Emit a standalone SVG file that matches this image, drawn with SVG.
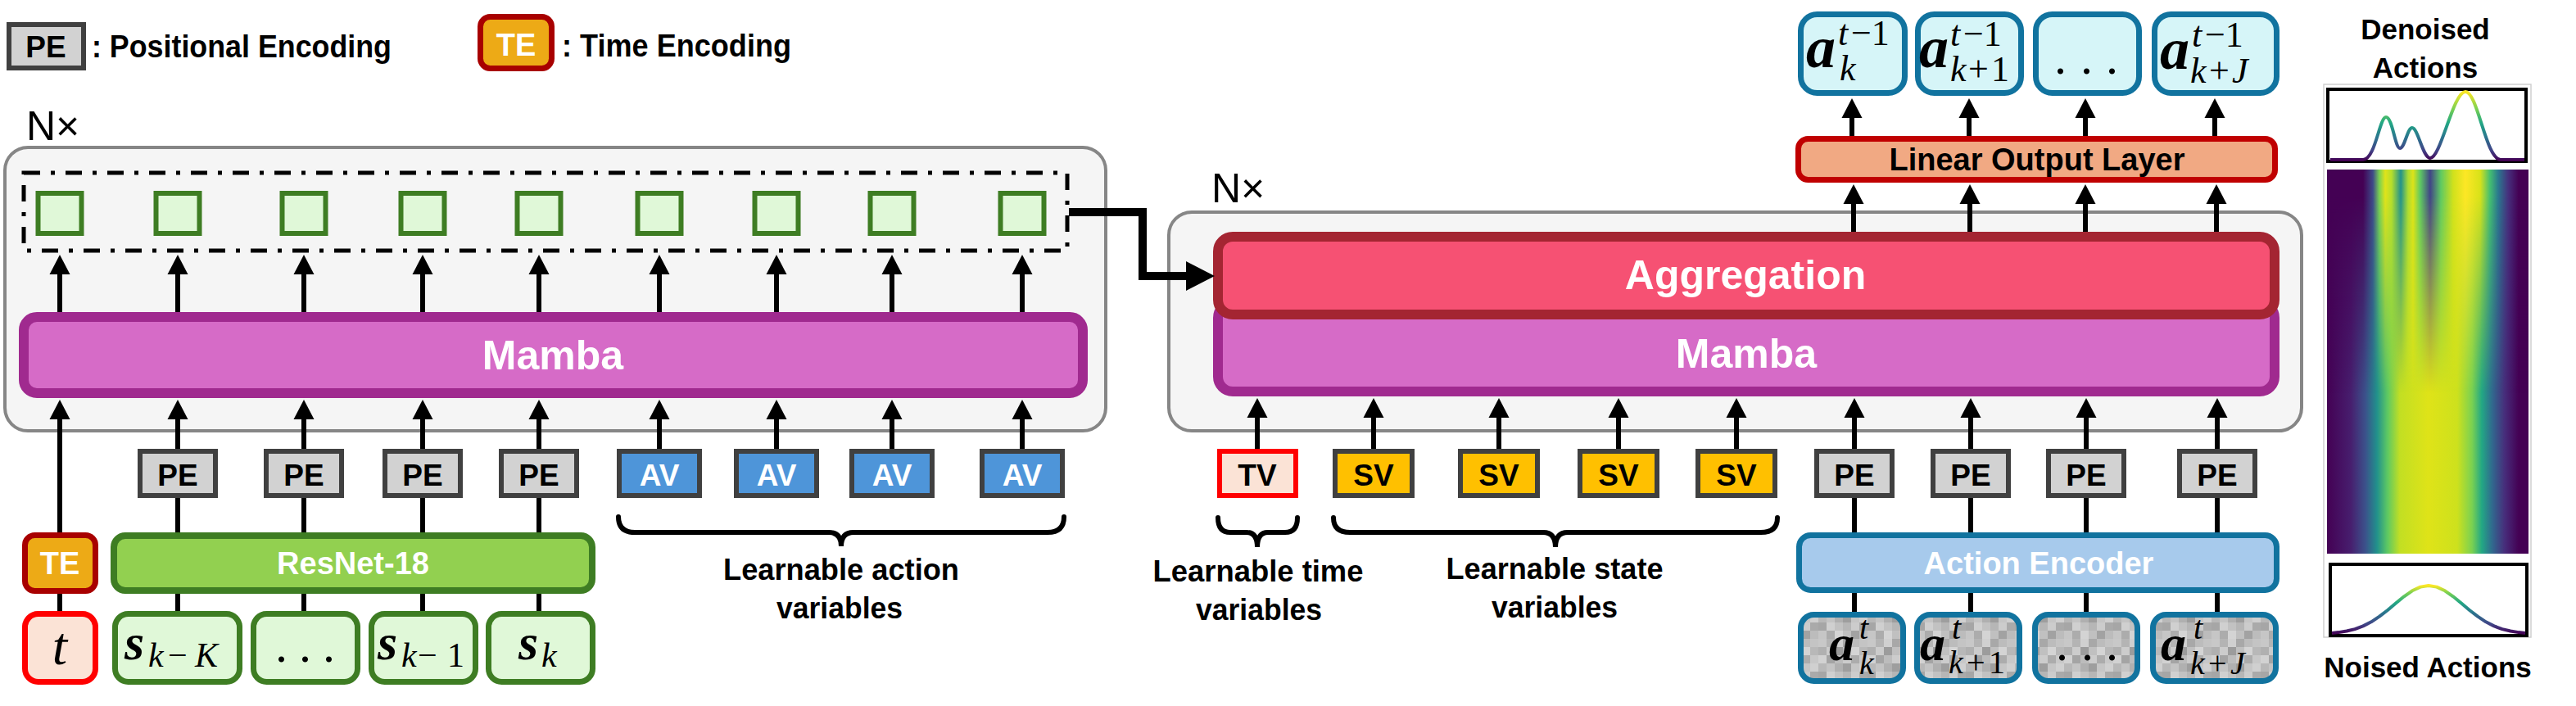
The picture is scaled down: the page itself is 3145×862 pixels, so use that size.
<svg xmlns="http://www.w3.org/2000/svg" width="3145" height="862" viewBox="0 0 3145 862">
<style>
.lb{font-family:'Liberation Sans',Arial,sans-serif;font-weight:bold}
.rg{font-family:'Liberation Sans',Arial,sans-serif}
.mi{font-family:'Liberation Serif','Times New Roman',serif;font-style:italic}
.mb{font-family:'Liberation Serif','Times New Roman',serif;font-style:italic;font-weight:bold}
.mr{font-family:'Liberation Serif','Times New Roman',serif}
.cont{fill:#F5F5F5;stroke:#868686;stroke-width:4}
.pe{fill:#D2D2D2;stroke:#404040;stroke-width:6}
.av{fill:#4E95D9;stroke:#404040;stroke-width:6}
.sv{fill:#FFC000;stroke:#404040;stroke-width:6}
.tv{fill:#FBE3D6;stroke:#FF0000;stroke-width:6}
.sq{fill:#E0F8D8;stroke:#3E7D23;stroke-width:6}
.st{fill:#E0F8D8;stroke:#3E7D23;stroke-width:7}
.mamba{fill:#D66BC7;stroke:#A02A8F;stroke-width:12}
.agg{fill:#F65173;stroke:#A42532;stroke-width:12}
.te{fill:#EDAA16;stroke:#A80000;stroke-width:7}
.tb{fill:#FBE3D6;stroke:#FF0000;stroke-width:7}
.res{fill:#92D050;stroke:#3E7D23;stroke-width:8}
.ae{fill:#A7CAEC;stroke:#11739F;stroke-width:7}
.ob{fill:#D6F5F8;stroke:#11739F;stroke-width:7}
.nb{fill:url(#noise);stroke:#11739F;stroke-width:7}
.lol{fill:#F1A983;stroke:#C00000;stroke-width:7}
.ar{stroke:#000;stroke-width:6;fill:none;marker-end:url(#ah)}
.ln{stroke:#000;stroke-width:6;fill:none}
.br{stroke:#000;stroke-width:6;fill:none;stroke-linecap:round}
.w{fill:#fff}
</style>
<defs>
<marker id="ah" markerUnits="userSpaceOnUse" viewBox="0 0 24 26" markerWidth="24" markerHeight="26" refX="13" refY="13" orient="auto">
<path d="M0,0.5 L24,13 L0,25.5 z" fill="#000"/>
</marker>
<pattern id="noise" patternUnits="userSpaceOnUse" width="60" height="60">
<rect x="0" y="0" width="10" height="10" fill="#c8c8c8"/><rect x="10" y="0" width="10" height="10" fill="#b4b4b4"/><rect x="20" y="0" width="10" height="10" fill="#d0d0d0"/><rect x="30" y="0" width="10" height="10" fill="#a8a8a8"/><rect x="40" y="0" width="10" height="10" fill="#bcbcbc"/><rect x="50" y="0" width="10" height="10" fill="#c4c4c4"/>
<rect x="0" y="10" width="10" height="10" fill="#b0b0b0"/><rect x="10" y="10" width="10" height="10" fill="#cccccc"/><rect x="20" y="10" width="10" height="10" fill="#9c9c9c"/><rect x="30" y="10" width="10" height="10" fill="#c0c0c0"/><rect x="40" y="10" width="10" height="10" fill="#d4d4d4"/><rect x="50" y="10" width="10" height="10" fill="#b8b8b8"/>
<rect x="0" y="20" width="10" height="10" fill="#d2d2d2"/><rect x="10" y="20" width="10" height="10" fill="#a4a4a4"/><rect x="20" y="20" width="10" height="10" fill="#bcbcbc"/><rect x="30" y="20" width="10" height="10" fill="#cccccc"/><rect x="40" y="20" width="10" height="10" fill="#acacac"/><rect x="50" y="20" width="10" height="10" fill="#c8c8c8"/>
<rect x="0" y="30" width="10" height="10" fill="#b8b8b8"/><rect x="10" y="30" width="10" height="10" fill="#c4c4c4"/><rect x="20" y="30" width="10" height="10" fill="#b0b0b0"/><rect x="30" y="30" width="10" height="10" fill="#9e9e9e"/><rect x="40" y="30" width="10" height="10" fill="#c6c6c6"/><rect x="50" y="30" width="10" height="10" fill="#d0d0d0"/>
<rect x="0" y="40" width="10" height="10" fill="#a6a6a6"/><rect x="10" y="40" width="10" height="10" fill="#d0d0d0"/><rect x="20" y="40" width="10" height="10" fill="#c2c2c2"/><rect x="30" y="40" width="10" height="10" fill="#b6b6b6"/><rect x="40" y="40" width="10" height="10" fill="#cccccc"/><rect x="50" y="40" width="10" height="10" fill="#aaaaaa"/>
<rect x="0" y="50" width="10" height="10" fill="#c6c6c6"/><rect x="10" y="50" width="10" height="10" fill="#acacac"/><rect x="20" y="50" width="10" height="10" fill="#d4d4d4"/><rect x="30" y="50" width="10" height="10" fill="#c0c0c0"/><rect x="40" y="50" width="10" height="10" fill="#a2a2a2"/><rect x="50" y="50" width="10" height="10" fill="#bcbcbc"/>
</pattern>
<linearGradient id="vTop" gradientUnits="userSpaceOnUse" x1="0" y1="196" x2="0" y2="112">
<stop offset="0" stop-color="#440154"/><stop offset="0.15" stop-color="#414487"/><stop offset="0.35" stop-color="#2a788e"/><stop offset="0.55" stop-color="#22a884"/><stop offset="0.75" stop-color="#7ad151"/><stop offset="1" stop-color="#fde725"/>
</linearGradient>
<linearGradient id="vBot" gradientUnits="userSpaceOnUse" x1="0" y1="774" x2="0" y2="715">
<stop offset="0" stop-color="#440154"/><stop offset="0.2" stop-color="#414487"/><stop offset="0.45" stop-color="#2a788e"/><stop offset="0.65" stop-color="#22a884"/><stop offset="0.85" stop-color="#7ad151"/><stop offset="1" stop-color="#fde725"/>
</linearGradient>
<linearGradient id="gB" gradientUnits="userSpaceOnUse" x1="2841" y1="0" x2="3087" y2="0">
<stop offset="0" stop-color="#440154"/><stop offset="0.118" stop-color="#471e6e"/><stop offset="0.191" stop-color="#3b528b"/><stop offset="0.248" stop-color="#21918c"/><stop offset="0.301" stop-color="#5ec962"/><stop offset="0.362" stop-color="#c2df23"/><stop offset="0.504" stop-color="#dfe318"/><stop offset="0.646" stop-color="#cde11d"/><stop offset="0.72" stop-color="#7ad151"/><stop offset="0.768" stop-color="#22a884"/><stop offset="0.821" stop-color="#31688e"/><stop offset="0.882" stop-color="#472d7b"/><stop offset="0.951" stop-color="#440154"/><stop offset="1" stop-color="#440154"/>
</linearGradient>
<linearGradient id="gT" gradientUnits="userSpaceOnUse" x1="2841" y1="0" x2="3087" y2="0">
<stop offset="0" stop-color="#440154"/><stop offset="0.179" stop-color="#440154"/><stop offset="0.228" stop-color="#3e4a89"/><stop offset="0.26" stop-color="#7ad151"/><stop offset="0.289" stop-color="#e0e31a"/><stop offset="0.321" stop-color="#b5de2b"/><stop offset="0.366" stop-color="#22928c"/><stop offset="0.402" stop-color="#a8db34"/><stop offset="0.427" stop-color="#dde318"/><stop offset="0.463" stop-color="#5ec962"/><stop offset="0.512" stop-color="#414487"/><stop offset="0.565" stop-color="#5ec962"/><stop offset="0.626" stop-color="#d0e11c"/><stop offset="0.687" stop-color="#fde725"/><stop offset="0.76" stop-color="#d8e219"/><stop offset="0.809" stop-color="#44bf70"/><stop offset="0.85" stop-color="#2a788e"/><stop offset="0.898" stop-color="#46317e"/><stop offset="0.951" stop-color="#440154"/><stop offset="1" stop-color="#440154"/>
</linearGradient>
<linearGradient id="fade" gradientUnits="userSpaceOnUse" x1="0" y1="207" x2="0" y2="480">
<stop offset="0" stop-color="#fff"/><stop offset="0.12" stop-color="#fff"/><stop offset="1" stop-color="#000"/>
</linearGradient>
<mask id="topMask" maskUnits="userSpaceOnUse" x="2841" y="207" width="246" height="469">
<rect x="2841" y="207" width="246" height="469" fill="url(#fade)"/>
</mask>
</defs>

<!-- legend -->
<g id="legend-pe">
<rect class="pe" x="11" y="30" width="91" height="53"/>
<text class="lb" x="56" y="70" font-size="37" text-anchor="middle">PE</text>
<text class="lb" x="112" y="70" font-size="38" textLength="366" lengthAdjust="spacingAndGlyphs">: Positional Encoding</text>
</g>
<g id="legend-te">
<rect class="te" x="586.5" y="20.5" width="87" height="63" rx="12"/>
<text class="lb w" x="630" y="68" font-size="38" text-anchor="middle">TE</text>
<text class="lb" x="686" y="69" font-size="38" textLength="280" lengthAdjust="spacingAndGlyphs">: Time Encoding</text>
</g>

<!-- containers -->
<g id="left-block">
<text class="rg" x="32" y="171" font-size="50">N×</text>
<rect class="cont" x="6" y="180" width="1344" height="346" rx="28"/>
<rect x="29" y="211" width="1274" height="95" fill="none" stroke="#000" stroke-width="5" stroke-dasharray="20 13 5 13"/>
</g>
<g id="right-block">
<text class="rg" x="1479" y="247" font-size="50">N×</text>
<rect class="cont" x="1427" y="259" width="1383" height="267" rx="28"/>
</g>

<!-- output tokens (left) -->
<g id="out-tokens">
<rect class="sq" x="46.5" y="236" width="53" height="49"/>
<rect class="sq" x="190.5" y="236" width="53" height="49"/>
<rect class="sq" x="344.5" y="236" width="53" height="49"/>
<rect class="sq" x="489.5" y="236" width="53" height="49"/>
<rect class="sq" x="631.5" y="236" width="53" height="49"/>
<rect class="sq" x="778.5" y="236" width="53" height="49"/>
<rect class="sq" x="921.5" y="236" width="53" height="49"/>
<rect class="sq" x="1062.5" y="236" width="53" height="49"/>
<rect class="sq" x="1221.5" y="236" width="53" height="49"/>
</g>

<g id="mamba-left">
<rect class="mamba" x="29" y="387" width="1293" height="93" rx="16"/>
<text class="lb w" x="675" y="451" font-size="50" text-anchor="middle">Mamba</text>
</g>

<g id="pe-left">
<rect class="pe" x="171" y="551" width="92" height="54"/><text class="lb" x="217" y="593" font-size="37" text-anchor="middle">PE</text>
<rect class="pe" x="325" y="551" width="92" height="54"/><text class="lb" x="371" y="593" font-size="37" text-anchor="middle">PE</text>
<rect class="pe" x="470" y="551" width="92" height="54"/><text class="lb" x="516" y="593" font-size="37" text-anchor="middle">PE</text>
<rect class="pe" x="612" y="551" width="92" height="54"/><text class="lb" x="658" y="593" font-size="37" text-anchor="middle">PE</text>
</g>
<g id="av">
<rect class="av" x="756" y="551" width="98" height="54"/><text class="lb w" x="805" y="593" font-size="37" text-anchor="middle">AV</text>
<rect class="av" x="899" y="551" width="98" height="54"/><text class="lb w" x="948" y="593" font-size="37" text-anchor="middle">AV</text>
<rect class="av" x="1040" y="551" width="98" height="54"/><text class="lb w" x="1089" y="593" font-size="37" text-anchor="middle">AV</text>
<rect class="av" x="1199" y="551" width="98" height="54"/><text class="lb w" x="1248" y="593" font-size="37" text-anchor="middle">AV</text>
</g>
<g id="av-label">
<path class="br" d="M755,631 Q755,650 775,650 L1012,650 Q1027,650 1027,667 Q1027,650 1042,650 L1279,650 Q1299,650 1299,631"/>
<text class="lb" x="1027" y="708" font-size="37" text-anchor="middle" textLength="288" lengthAdjust="spacingAndGlyphs">Learnable action</text>
<text class="lb" x="1025" y="755" font-size="37" text-anchor="middle" textLength="154" lengthAdjust="spacingAndGlyphs">variables</text>
</g>

<g id="te-left">
<rect class="te" x="30.5" y="653.5" width="86" height="68" rx="12"/>
<text class="lb w" x="73" y="701" font-size="38" text-anchor="middle">TE</text>
</g>
<g id="t-input">
<rect class="tb" x="30.5" y="749.5" width="86" height="83" rx="16"/>
<text class="mi" x="73" y="811" font-size="66" text-anchor="middle">t</text>
</g>
<g id="resnet">
<rect class="res" x="139" y="654" width="584" height="67" rx="14"/>
<text class="lb w" x="431" y="701" font-size="38" text-anchor="middle">ResNet-18</text>
</g>
<g id="states">
<rect class="st" x="140.5" y="749.5" width="152" height="83" rx="16"/>
<text font-size="42"><tspan class="mb" x="152" y="805" font-size="62">s</tspan><tspan class="mi" x="181" y="814">k</tspan><tspan class="mr" x="205" y="814">−</tspan><tspan class="mi" x="238" y="814">K</tspan></text>
<rect class="st" x="309.5" y="749.5" width="127" height="83" rx="16"/>
<text class="mr" font-size="60" x="336 365 394" y="808">...</text>
<rect class="st" x="453.5" y="749.5" width="127" height="83" rx="16"/>
<text font-size="42"><tspan class="mb" x="461" y="805" font-size="62">s</tspan><tspan class="mi" x="490" y="814">k</tspan><tspan class="mr" x="510" y="814">−</tspan><tspan class="mr" x="546" y="814">1</tspan></text>
<rect class="st" x="596.5" y="749.5" width="127" height="83" rx="16"/>
<text font-size="42"><tspan class="mb" x="633" y="805" font-size="62">s</tspan><tspan class="mi" x="661" y="814">k</tspan></text>
</g>

<!-- right side -->
<g id="mamba-right">
<rect class="mamba" x="1487" y="370" width="1290" height="108" rx="18"/>
<text class="lb w" x="2132" y="449" font-size="50" text-anchor="middle">Mamba</text>
</g>
<g id="aggregation">
<rect class="agg" x="1487" y="289" width="1290" height="95" rx="18"/>
<text class="lb w" x="2131" y="353" font-size="50" text-anchor="middle">Aggregation</text>
</g>
<g id="tv">
<rect class="tv" x="1489" y="551" width="93" height="54"/><text class="lb" x="1535" y="593" font-size="37" text-anchor="middle">TV</text>
<path class="br" d="M1487,632 Q1487,650 1502,650 L1522,650 Q1535,650 1535,668 Q1535,650 1548,650 L1569,650 Q1584,650 1584,632"/>
<text class="lb" x="1536" y="710" font-size="37" text-anchor="middle" textLength="257" lengthAdjust="spacingAndGlyphs">Learnable time</text>
<text class="lb" x="1537" y="757" font-size="37" text-anchor="middle" textLength="154" lengthAdjust="spacingAndGlyphs">variables</text>
</g>
<g id="sv">
<rect class="sv" x="1630" y="551" width="94" height="54"/><text class="lb" x="1677" y="593" font-size="37" text-anchor="middle">SV</text>
<rect class="sv" x="1783" y="551" width="94" height="54"/><text class="lb" x="1830" y="593" font-size="37" text-anchor="middle">SV</text>
<rect class="sv" x="1929" y="551" width="94" height="54"/><text class="lb" x="1976" y="593" font-size="37" text-anchor="middle">SV</text>
<rect class="sv" x="2073" y="551" width="94" height="54"/><text class="lb" x="2120" y="593" font-size="37" text-anchor="middle">SV</text>
<path class="br" d="M1628,632 Q1628,650 1648,650 L1884,650 Q1899,650 1899,668 Q1899,650 1914,650 L2150,650 Q2170,650 2170,632"/>
<text class="lb" x="1898" y="707" font-size="37" text-anchor="middle" textLength="265" lengthAdjust="spacingAndGlyphs">Learnable state</text>
<text class="lb" x="1898" y="754" font-size="37" text-anchor="middle" textLength="154" lengthAdjust="spacingAndGlyphs">variables</text>
</g>
<g id="pe-right">
<rect class="pe" x="2218" y="551" width="92" height="54"/><text class="lb" x="2264" y="593" font-size="37" text-anchor="middle">PE</text>
<rect class="pe" x="2360" y="551" width="92" height="54"/><text class="lb" x="2406" y="593" font-size="37" text-anchor="middle">PE</text>
<rect class="pe" x="2501" y="551" width="92" height="54"/><text class="lb" x="2547" y="593" font-size="37" text-anchor="middle">PE</text>
<rect class="pe" x="2661" y="551" width="92" height="54"/><text class="lb" x="2707" y="593" font-size="37" text-anchor="middle">PE</text>
</g>
<g id="action-encoder">
<rect class="ae" x="2196.5" y="653.5" width="583" height="67" rx="14"/>
<text class="lb w" x="2489" y="701" font-size="38" text-anchor="middle">Action Encoder</text>
</g>
<g id="noisy-actions">
<rect class="nb" x="2198.5" y="750.5" width="125" height="81" rx="16"/>
<text font-size="40"><tspan class="mb" x="2233" y="806" font-size="62">a</tspan><tspan class="mi" x="2270" y="780">t</tspan><tspan class="mi" x="2270" y="823">k</tspan></text>
<rect class="nb" x="2340.5" y="750.5" width="125" height="81" rx="16"/>
<text font-size="40"><tspan class="mb" x="2344" y="806" font-size="62">a</tspan><tspan class="mi" x="2383" y="780">t</tspan><tspan class="mi" x="2379" y="822">k</tspan><tspan class="mr" x="2401" y="822">+</tspan><tspan class="mr" x="2428" y="822">1</tspan></text>
<rect class="nb" x="2484.5" y="750.5" width="125" height="81" rx="16"/>
<text class="mr" font-size="60" x="2510 2541 2571" y="806">...</text>
<rect class="nb" x="2628.5" y="750.5" width="150" height="81" rx="16"/>
<text font-size="40"><tspan class="mb" x="2638" y="806" font-size="62">a</tspan><tspan class="mi" x="2678" y="780">t</tspan><tspan class="mi" x="2674" y="823">k</tspan><tspan class="mr" x="2696" y="823">+</tspan><tspan class="mi" x="2723" y="823">J</tspan></text>
</g>
<g id="linear-output">
<rect class="lol" x="2195.5" y="169.5" width="582" height="50" rx="12"/>
<text class="lb" x="2487" y="208" font-size="38" text-anchor="middle">Linear Output Layer</text>
</g>
<g id="denoised-actions">
<rect class="ob" x="2198.5" y="17.5" width="127" height="96" rx="20"/>
<text font-size="44"><tspan class="mb" x="2205" y="82" font-size="72">a</tspan><tspan class="mi" x="2244" y="55">t</tspan><tspan class="mr" x="2260" y="55">−1</tspan><tspan class="mi" x="2246" y="98">k</tspan></text>
<rect class="ob" x="2341.5" y="17.5" width="126" height="96" rx="20"/>
<text font-size="44"><tspan class="mb" x="2343" y="82" font-size="72">a</tspan><tspan class="mi" x="2381" y="56">t</tspan><tspan class="mr" x="2397" y="56">−1</tspan><tspan class="mi" x="2381" y="99">k</tspan><tspan class="mr" x="2403" y="99">+</tspan><tspan class="mr" x="2431" y="99">1</tspan></text>
<rect class="ob" x="2485.5" y="17.5" width="126" height="96" rx="20"/>
<text class="mr" font-size="60" x="2508 2540 2571" y="90">...</text>
<rect class="ob" x="2630.5" y="17.5" width="149" height="96" rx="20"/>
<text font-size="44"><tspan class="mb" x="2637" y="84" font-size="72">a</tspan><tspan class="mi" x="2676" y="57">t</tspan><tspan class="mr" x="2692" y="57">−1</tspan><tspan class="mi" x="2674" y="101">k</tspan><tspan class="mr" x="2697" y="101">+</tspan><tspan class="mi" x="2725" y="101">J</tspan></text>
</g>

<!-- visualization panel -->
<g id="viz">
<text class="lb" x="2961" y="48" font-size="35" text-anchor="middle">Denoised</text>
<text class="lb" x="2961" y="95" font-size="35" text-anchor="middle">Actions</text>
<rect x="2837" y="103" width="253" height="675" fill="#fff" stroke="#d0d0d0" stroke-width="1.5"/>
<rect x="2842" y="109" width="242" height="88" fill="#fff" stroke="#000" stroke-width="4"/>
<path d="M2845,195 L2885,195 C2900,195 2905,143 2913,143 C2921,143 2924,181 2930,181 C2936,181 2939,156 2945,156 C2952,156 2958,193 2967,193 C2980,193 2995,112 3010,112 C3025,112 3035,195 3053,195 L3082,195" fill="none" stroke="url(#vTop)" stroke-width="4"/>
<rect x="2841" y="207" width="246" height="469" fill="url(#gB)"/>
<rect x="2841" y="207" width="246" height="469" fill="url(#gT)" mask="url(#topMask)"/>
<rect x="2845" y="689" width="240" height="87" fill="#fff" stroke="#000" stroke-width="4"/>
<path d="M2847,772.9 L2855,772.1 L2865,770.5 L2875,768.1 L2885,764.4 L2895,759.3 L2905,752.7 L2915,745 L2925,736.5 L2935,728.3 L2945,721.3 L2955,716.6 L2965,715 L2975,716.6 L2985,721.3 L2995,728.3 L3005,736.5 L3015,745 L3025,752.7 L3035,759.3 L3045,764.4 L3055,768.1 L3065,770.5 L3075,772.1 L3083,772.9" fill="none" stroke="url(#vBot)" stroke-width="4" stroke-linejoin="round"/>
<text class="lb" x="2964" y="827" font-size="35" text-anchor="middle">Noised Actions</text>
</g>

<!-- connectors -->
<g id="connectors">
<line class="ar" x1="73" y1="381" x2="73" y2="322"/>
<line class="ar" x1="217" y1="381" x2="217" y2="322"/>
<line class="ar" x1="371" y1="381" x2="371" y2="322"/>
<line class="ar" x1="516" y1="381" x2="516" y2="322"/>
<line class="ar" x1="658" y1="381" x2="658" y2="322"/>
<line class="ar" x1="805" y1="381" x2="805" y2="322"/>
<line class="ar" x1="948" y1="381" x2="948" y2="322"/>
<line class="ar" x1="1089" y1="381" x2="1089" y2="322"/>
<line class="ar" x1="1248" y1="381" x2="1248" y2="322"/>
<line class="ar" x1="73" y1="650" x2="73" y2="499"/>
<line class="ar" x1="217" y1="548" x2="217" y2="499"/>
<line class="ar" x1="371" y1="548" x2="371" y2="499"/>
<line class="ar" x1="516" y1="548" x2="516" y2="499"/>
<line class="ar" x1="658" y1="548" x2="658" y2="499"/>
<line class="ar" x1="805" y1="548" x2="805" y2="499"/>
<line class="ar" x1="948" y1="548" x2="948" y2="499"/>
<line class="ar" x1="1089" y1="548" x2="1089" y2="499"/>
<line class="ar" x1="1248" y1="548" x2="1248" y2="499"/>
<line class="ln" x1="73" y1="746" x2="73" y2="725"/>
<line class="ln" x1="217" y1="650" x2="217" y2="608"/>
<line class="ln" x1="371" y1="650" x2="371" y2="608"/>
<line class="ln" x1="516" y1="650" x2="516" y2="608"/>
<line class="ln" x1="658" y1="650" x2="658" y2="608"/>
<line class="ln" x1="217" y1="746" x2="217" y2="725"/>
<line class="ln" x1="371" y1="746" x2="371" y2="725"/>
<line class="ln" x1="516" y1="746" x2="516" y2="725"/>
<line class="ln" x1="658" y1="746" x2="658" y2="725"/>
<polyline points="1305,259 1395,259 1395,337 1452,337" fill="none" stroke="#000" stroke-width="10"/>
<polygon points="1448,319 1483,337 1448,355" fill="#000"/>
<line class="ar" x1="1535" y1="548" x2="1535" y2="497"/>
<line class="ar" x1="1677" y1="548" x2="1677" y2="497"/>
<line class="ar" x1="1830" y1="548" x2="1830" y2="497"/>
<line class="ar" x1="1976" y1="548" x2="1976" y2="497"/>
<line class="ar" x1="2120" y1="548" x2="2120" y2="497"/>
<line class="ar" x1="2264" y1="548" x2="2264" y2="497"/>
<line class="ar" x1="2406" y1="548" x2="2406" y2="497"/>
<line class="ar" x1="2547" y1="548" x2="2547" y2="497"/>
<line class="ar" x1="2707" y1="548" x2="2707" y2="497"/>
<line class="ln" x1="2264" y1="650" x2="2264" y2="608"/>
<line class="ln" x1="2406" y1="650" x2="2406" y2="608"/>
<line class="ln" x1="2547" y1="650" x2="2547" y2="608"/>
<line class="ln" x1="2707" y1="650" x2="2707" y2="608"/>
<line class="ln" x1="2264" y1="747" x2="2264" y2="724"/>
<line class="ln" x1="2406" y1="747" x2="2406" y2="724"/>
<line class="ln" x1="2547" y1="747" x2="2547" y2="724"/>
<line class="ln" x1="2707" y1="747" x2="2707" y2="724"/>
<line class="ar" x1="2263" y1="283" x2="2263" y2="236"/>
<line class="ar" x1="2405" y1="283" x2="2405" y2="236"/>
<line class="ar" x1="2546" y1="283" x2="2546" y2="236"/>
<line class="ar" x1="2706" y1="283" x2="2706" y2="236"/>
<line class="ar" x1="2261" y1="166" x2="2261" y2="131"/>
<line class="ar" x1="2404" y1="166" x2="2404" y2="131"/>
<line class="ar" x1="2546" y1="166" x2="2546" y2="131"/>
<line class="ar" x1="2704" y1="166" x2="2704" y2="131"/>
</g>
</svg>
